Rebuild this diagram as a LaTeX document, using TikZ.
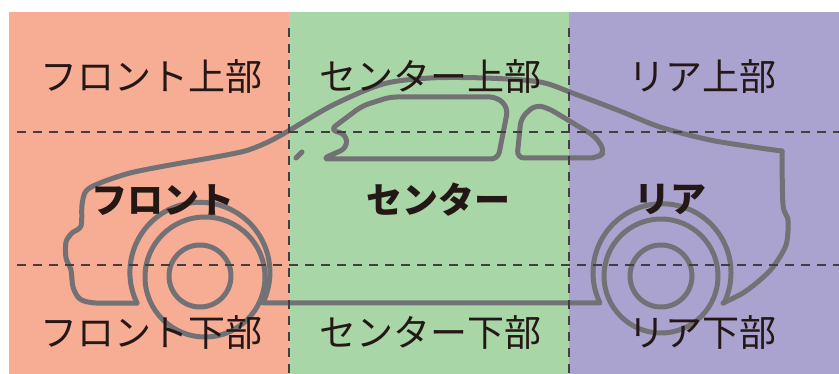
\documentclass[tikz,border=0pt]{standalone}
\usepackage{fontspec}
\setmainfont{Noto Sans CJK JP}
\usetikzlibrary{positioning}

\definecolor{frontzone}{HTML}{F7AC94}
\definecolor{centerzone}{HTML}{A9D6A6}
\definecolor{rearzone}{HTML}{ABA3CF}
\definecolor{cargray}{HTML}{727176}
\definecolor{divgray}{HTML}{404040}
\definecolor{ink}{HTML}{231815}

\tikzset{
  carline/.style={draw=cargray,line width=5pt,line join=round,line cap=round},
  divline/.style={draw=divgray,line width=2.2pt,dash pattern=on 9pt off 7pt},
  partlabel/.style={text=ink,inner sep=0pt,font=\fontsize{37}{40}\selectfont},
  zonelabel/.style={partlabel,font=\fontsize{36}{40}\selectfont\bfseries}
}

\begin{document}
\begin{tikzpicture}[x=1pt,y=-1pt]
\useasboundingbox (0,0) rectangle (839,374);

% the three zones
\fill[frontzone] (9,12) rectangle (289,374);
\fill[centerzone] (289,12) rectangle (569,374);
\fill[rearzone] (569,12) rectangle (839,374);

% body: bumper, hood, roof and tail
\draw[carline] plot[smooth,tension=0.5] coordinates {(137,303) (96,303) (80,299) (73,287)
  (71,270) (66,258) (66,242) (72,233) (81,226) (82,205) (86,191) (100,183) (130,173)
  (170,165) (210,158) (245,151) (268,142) (290,130) (333,105) (383,84) (430,78) (485,78)
  (540,82) (575,94) (620,111) (660,127) (710,140) (760,148) (782,151)};
\draw[carline] plot[smooth,tension=0.5] coordinates {(782,151) (783,205) (788,220)
  (786,245) (773,267) (760,280) (743,293) (723,303)};
% arches and sill
\draw[carline] (137,303) arc[start angle=154,end angle=386,radius=70] -- (600,303)
  arc[start angle=154,end angle=386,radius=69];

% wheels
\draw[carline] (205,277) circle[radius=60];
\draw[carline] (200,276) circle[radius=31];
\draw[carline] (661,276) circle[radius=57];
\draw[carline] (661,276) circle[radius=31];

% windows and mirror
\draw[carline,rounded corners=7pt] (322,159) -- (498,159) -- (508,108) -- (497,97)
  -- (390,97) -- (362,106) -- (330,130) -- (346,134) -- (347,148) -- cycle;
\draw[carline,rounded corners=7pt] (517,158) -- (521,118) -- (535,105) -- (548,108)
  -- (596,137) -- (605,152) -- (597,158) -- cycle;
\draw[carline] (296,158) -- (302,152);

% dividing lines
\draw[divline] (17,132) -- (839,132);
\draw[divline] (17,265) -- (839,265);
\draw[divline] (289,28) -- (289,374);
\draw[divline] (569,28) -- (569,374);

% labels
\node[partlabel] (frontup) at (152,77) {フロント上部};
\node[partlabel] (centerup) at (430,77) {センター上部};
\node[partlabel] (rearup) at (702,77) {リア上部};
\node[zonelabel] (front) at (163,200) {フロント};
\node[zonelabel] (center) at (438,200) {センター};
\node[zonelabel] (rear) at (670,200) {リア};
\node[partlabel] (frontlow) at (152,333) {フロント下部};
\node[partlabel] (centerlow) at (430,333) {センター下部};
\node[partlabel] (rearlow) at (702,333) {リア下部};
\end{tikzpicture}
\end{document}
